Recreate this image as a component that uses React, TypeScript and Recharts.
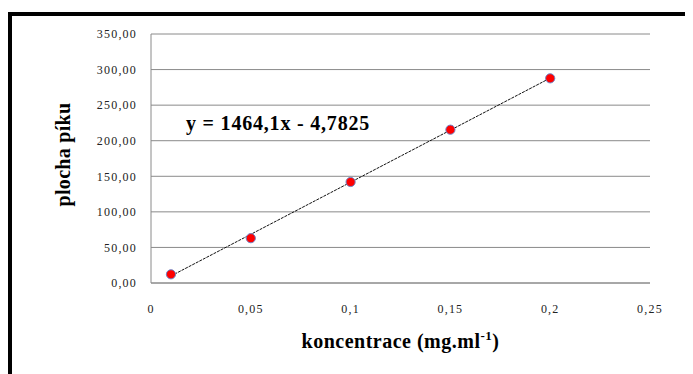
import { ScatterChart, Scatter, XAxis, YAxis, CartesianGrid, Label } from 'recharts';

// calibration measurements: concentration (mg/ml) vs. peak area
const concentrations = [0.01, 0.05, 0.1, 0.15, 0.2];
const peakAreas = [12.2, 63.0, 142.0, 215.5, 287.7];

const xTicks = [0, 0.05, 0.1, 0.15, 0.2, 0.25];
const yTicks = [0, 50, 100, 150, 200, 250, 300, 350];

// linear fit printed on the chart
const slope = 1464.1;
const intercept = -4.7825;
const equationText = 'y = 1464,1x - 4,7825';

const points = concentrations.map((x, i) => ({ x, y: peakAreas[i] }));
const fitEnds = [concentrations[0], concentrations[concentrations.length - 1]];
const fitLine = fitEnds.map((x) => ({ x, y: slope * x + intercept }));

const serif = "'Liberation Serif', serif";

const fmtX = (v: number) => String(v).replace('.', ',');
const fmtY = (v: number) => v.toFixed(2).replace('.', ',');

const Dot = (props: any) => {
  const { cx, cy } = props;
  if (cx == null || cy == null) return null;
  return <circle cx={cx} cy={cy} r={4.6} fill="#ff0000" stroke="#6f86c8" strokeWidth={1} />;
};

const YTitle = (props: any) => {
  const vb = props.viewBox;
  const cx = vb.x + 51;
  const cy = vb.y + vb.height / 2 - 4;
  return (
    <text
      x={cx}
      y={cy}
      transform={`rotate(-90 ${cx} ${cy})`}
      textAnchor="middle"
      dominantBaseline="central"
      style={{ fontFamily: serif, letterSpacing: 0.3 }}
      fontWeight="bold"
      fontSize={20}
      fill="#000"
    >
      plocha píku
    </text>
  );
};

const XTitle = (props: any) => {
  const vb = props.viewBox;
  return (
    <text
      x={vb.x + vb.width / 2}
      y={vb.y + 65}
      textAnchor="middle"
      style={{ fontFamily: serif, letterSpacing: 0.5 }}
      fontWeight="bold"
      fontSize={20}
      fill="#000"
    >
      koncentrace (mg.ml
      <tspan dy={-8} fontSize={13}>-1</tspan>
      <tspan dy={8}>)</tspan>
    </text>
  );
};

const tickStyle = { fontFamily: serif, fontSize: 12, fill: '#222', letterSpacing: 1.2 };

export default function App() {
  return (
    <div
      style={{
        position: 'relative',
        marginTop: 4,
        width: 681,
        height: 358,
        borderTop: '4px solid #000',
        borderLeft: '4px solid #000',
        background: '#fff',
        fontFamily: serif,
      }}
    >
      <ScatterChart width={681} height={358} margin={{ top: 18, right: 43, bottom: 0, left: 0 }}>
        <CartesianGrid vertical={false} stroke="#8a8a8a" strokeWidth={1} />
        <XAxis
          type="number"
          dataKey="x"
          domain={[0, 0.25]}
          ticks={xTicks}
          tickFormatter={fmtX}
          height={91}
          axisLine={{ stroke: '#8a8a8a' }}
          tickLine={false}
          tickSize={0}
          tickMargin={21}
          tick={tickStyle}
        >
          <Label content={<XTitle />} />
        </XAxis>
        <YAxis
          type="number"
          dataKey="y"
          domain={[0, 350]}
          ticks={yTicks}
          tickFormatter={fmtY}
          width={139}
          axisLine={{ stroke: '#8a8a8a' }}
          tickLine={false}
          tickSize={0}
          tickMargin={14}
          tick={tickStyle}
        >
          <Label content={<YTitle />} />
        </YAxis>
        <Scatter
          data={fitLine}
          line={{ stroke: '#111', strokeWidth: 1, strokeDasharray: '3 1' }}
          lineType="joint"
          shape={() => null}
          isAnimationActive={false}
        />
        <Scatter data={points} shape={<Dot />} isAnimationActive={false} />
      </ScatterChart>
      <div
        style={{
          position: 'absolute',
          left: 174,
          top: 97,
          fontWeight: 'bold',
          fontSize: 20,
          lineHeight: '20px',
          letterSpacing: 0.8,
          whiteSpace: 'nowrap',
          color: '#000',
        }}
      >
        {equationText}
      </div>
    </div>
  );
}
